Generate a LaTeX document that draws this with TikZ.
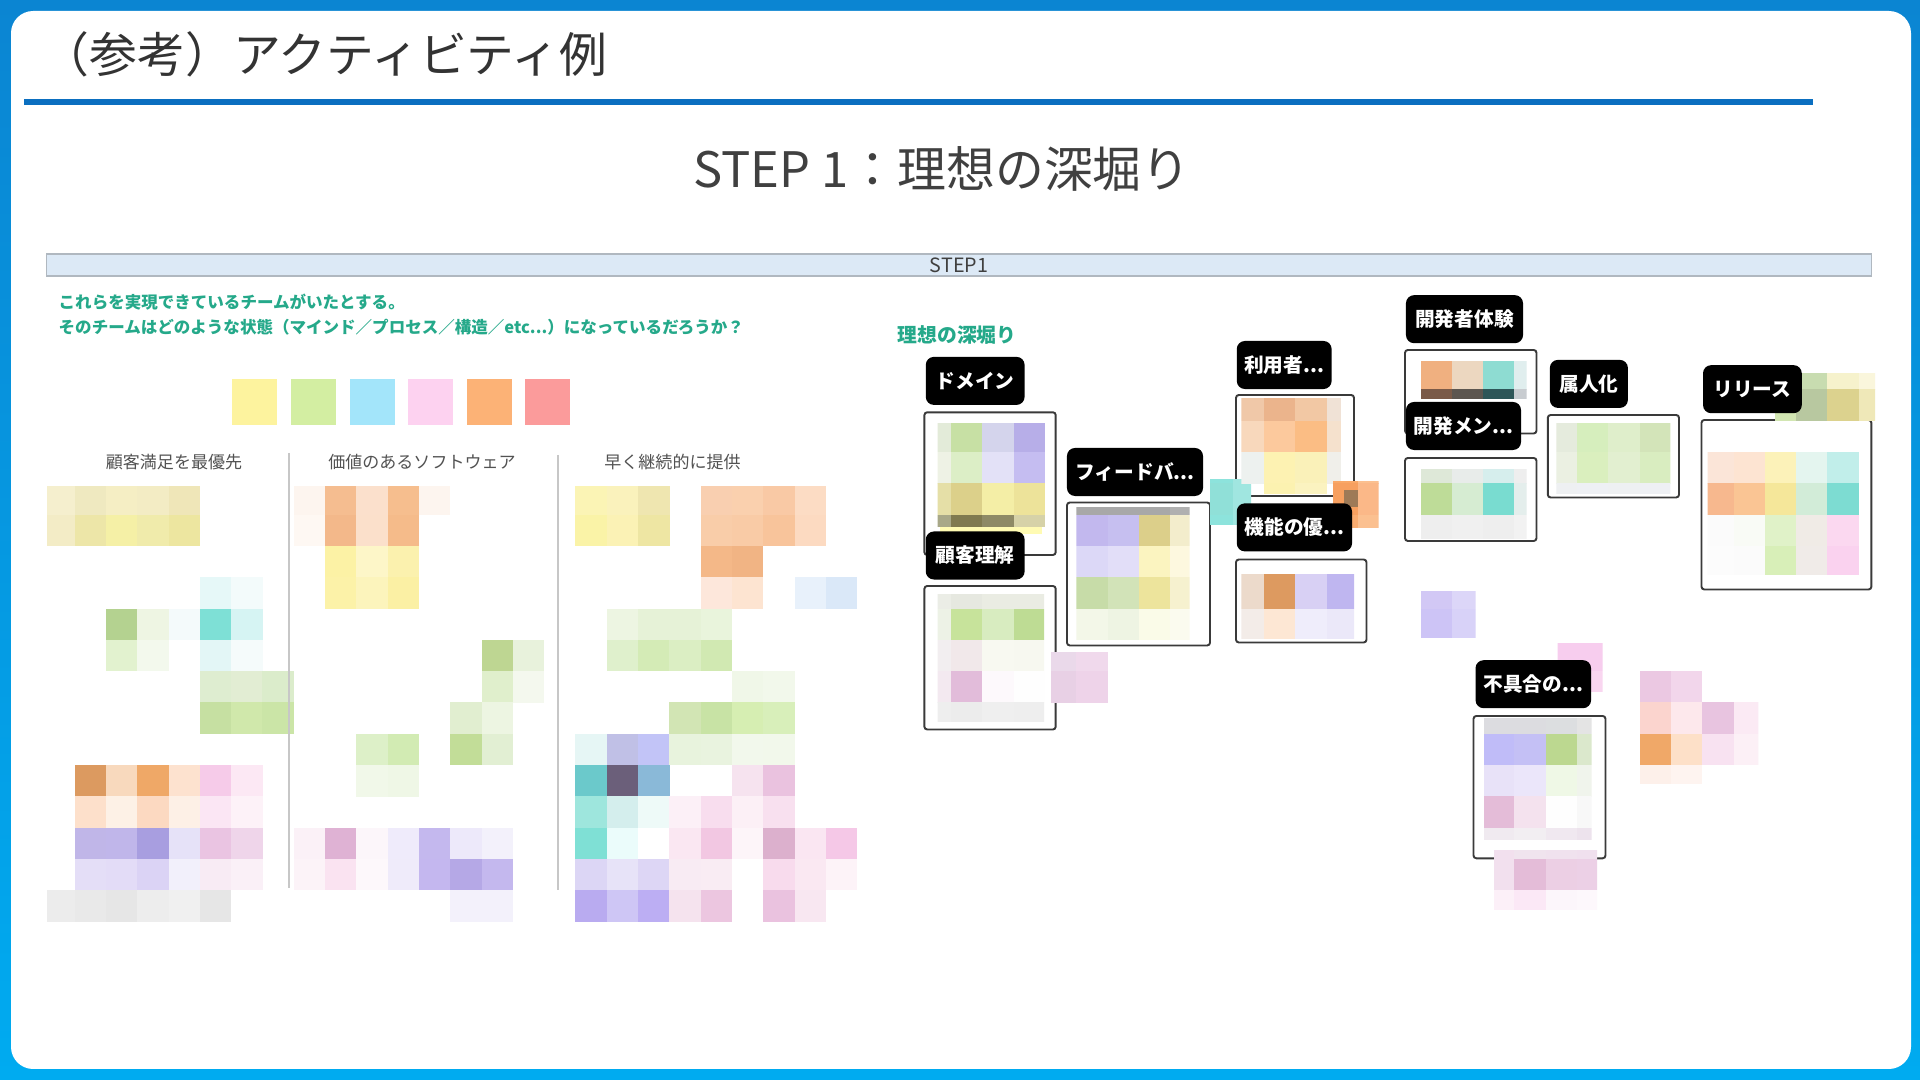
\documentclass[tikz,border=0pt]{standalone}
\usepackage{fontspec}
\setmainfont{Noto Sans CJK JP}
\usepackage{tikz}
\usetikzlibrary{positioning}
\definecolor{deepblue}{HTML}{0B85D2}
\definecolor{midblue}{HTML}{04A0E8}
\definecolor{skyblue}{HTML}{00ABF0}
\definecolor{ruleblue}{HTML}{0B6FC0}
\definecolor{inkgray}{HTML}{404040}
\definecolor{barblue}{HTML}{DCE9F6}
\definecolor{bargray}{HTML}{B0B8C0}
\definecolor{memogreen}{HTML}{25A98A}
\definecolor{framegray}{HTML}{3A3A3A}

% one pixel block of the blurred board, on a 31.3px grid
\newcommand\cells[2]{%
  \begin{scope}
    \clip #1;
    \foreach \ci/\cj/\cc in {#2}{%
      \definecolor{cellc}{HTML}{\cc}%
      \fill[cellc] ({43.3+31.3*\ci},{483.4+31.3*\cj}) rectangle ++(31.5,31.5);}
  \end{scope}}

\begin{document}
\begin{tikzpicture}[
    x=0.01cm,y=-0.01cm,
    tag/.style={fill=black,rounded corners=2.3pt,text=white,font=\fontsize{5.6pt}{6pt}\selectfont\bfseries,minimum height=0.48cm,inner sep=0pt},
    board/.style={draw=framegray,line width=0.55pt,fill=white,rounded corners=0.8pt},
    colhead/.style={text=black!68,font=\fontsize{4.84pt}{5pt}\selectfont,inner sep=0pt},
    memo/.style={text=memogreen,font=\fontsize{4.7pt}{5pt}\selectfont\bfseries,anchor=west,inner sep=0pt},
    swatch/.style={minimum width=0.45cm,minimum height=0.46cm,inner sep=0pt,anchor=north west},
    divider/.style={draw=black!22,line width=0.6pt}
  ]
  \useasboundingbox (0,0) rectangle (1920,1080);
  % card
  \shade[top color=deepblue,middle color=midblue,bottom color=skyblue] (0,0) rectangle (1920,1080);
  \fill[white,rounded corners=6.3pt] (11,11) rectangle (1911,1069);

  % heading
  \node[anchor=west,inner sep=0pt,text=black!80,font=\fontsize{13.6pt}{14pt}\selectfont] (title) at (41,54) {（参考）アクティビティ例};
  \draw[ruleblue,line width=1.7pt] (24,102) -- (1813,102);
  \node[text=inkgray,font=\fontsize{13.9pt}{15pt}\selectfont,inner sep=0pt] (step) at (942,169) {STEP 1：理想の深堀り};
  \node[draw=bargray,fill=barblue,line width=0.5pt,minimum width=18.24cm,minimum height=0.22cm,inner sep=0pt,
        text=inkgray,font=\fontsize{5.6pt}{6pt}\selectfont] (bar) at (959,265) {STEP1};

  % left: question and colour keys
  \node[memo] (ask1) at (58,302) {これらを実現できているチームがいたとする。};
  \node[memo] (ask2) at (58,327) {そのチームはどのような状態（マインド／プロセス／構造／etc...）になっているだろうか？};
  \foreach \k/\sx/\sc in {1/231.3/FDF39E,2/290.5/D3EEA2,3/349/A3E5FA,4/407.6/FDD2F0,5/466/FCB276,6/524.7/FB9B9B}{
    \definecolor{swc}{HTML}{\sc}
    \node[swatch,fill=swc] (sw\k) at (\sx,378.6) {};
  }
  \node[colhead] (head1) at (174,462) {顧客満足を最優先};
  \node[colhead] (head2) at (422,462) {価値のあるソフトウェア};
  \node[colhead] (head3) at (672.5,462) {早く継続的に提供};

  % left: blurred notes
  \cells{(47,487) rectangle (872,922)}{
    0/0/F5EFCE,1/0/EFE9C0,2/0/F5EEC4,3/0/F3ECC4,4/0/EFE6B8,
    0/1/F3ECC6,1/1/EDE6A8,2/1/F5F0A6,3/1/F0EBAB,4/1/EDE6A0,
    5/3/E6F8F8,6/3/F3FBFB,
    2/4/B4D290,3/4/EEF5E3,4/4/F4FAFB,5/4/7EE0D6,6/4/D6F4F3,
    2/5/E2F2CF,3/5/F3F9ED,5/5/E3F6F6,6/5/F5FBFB,
    5/6/DEEDD0,6/6/E2EDD3,7/6/DBECCB,
    5/7/C6E0A2,6/7/D0E8AB,7/7/CBE5A7,
    1/9/DC9A60,2/9/F8D9BD,3/9/EFA867,4/9/FDE2CF,5/9/F6CBE9,6/9/FCE8F4,
    1/10/FDE0CB,2/10/FDF1E6,3/10/FCD9C1,4/10/FDF0E6,5/10/FBE6F4,6/10/FDF2F8,
    1/11/C0B6E8,2/11/C0B6EA,3/11/A89EE0,4/11/E6E2F8,5/11/EAC4E2,6/11/EFD5EA,
    1/12/E4DEF7,2/12/E3DCF7,3/12/DBD3F5,4/12/F2F0FB,5/12/F8EBF4,6/12/FAF0F7,
    0/13/ECECEC,1/13/E9E9E9,2/13/E6E6E6,3/13/EDEDED,4/13/F0F0F0,5/13/E6E6E6,
    8/0/FDF5EF,9/0/F5BD90,10/0/FBE0CC,11/0/F6BE8E,12/0/FDF5EF,
    8/1/FEF8F3,9/1/F3B88A,10/1/FBE0CB,11/1/F5BB8A,
    9/2/FCF2A5,10/2/FDF6C8,11/2/FBF1AE,
    9/3/FCF2A8,10/3/FCF4BC,11/3/FBF0A4,
    14/5/BED692,15/5/E8F2DC,
    14/6/E0EFCC,15/6/F4F8EE,
    13/7/E1EED0,14/7/EDF5E2,
    10/8/DDF0C8,11/8/D2EBB3,13/8/C2DD98,14/8/E2EFD3,
    10/9/F1F8E9,11/9/EFF7E6,
    8/11/FBF1F7,9/11/DFB2D4,10/11/FCF6FA,11/11/EFEBFB,12/11/C4B8EE,13/11/EDE9FA,14/11/F3F1FB,
    8/12/FCF3F8,9/12/FAE3F1,10/12/FDF8FB,11/12/EFEBFA,12/12/C4B7EF,13/12/B5A8E6,14/12/C4B8EE,
    13/13/F3F1FB,14/13/F3F1FB,
    17/0/FBF4B5,18/0/FAF2BC,19/0/EFE6B0,21/0/F9CFB0,22/0/FAD0AE,23/0/F9C9A5,24/0/FCDCC4,
    17/1/FAF3A7,18/1/FBF2B5,19/1/EEE6A3,21/1/F9CDA9,22/1/F9CBA6,23/1/F8C49B,24/1/FCDAC1,
    21/2/F4B888,22/2/F1B484,
    21/3/FDE7DB,22/3/FDE4D1,24/3/E8F1FB,25/3/DAE8F8,
    18/4/EDF5E2,19/4/E6F2D7,20/4/E6F2D7,21/4/E9F4DC,
    18/5/DFF0CC,19/5/D4EBB6,20/5/DBEEC3,21/5/D1E9B2,
    22/6/F0F7E8,23/6/F2F8EB,
    20/7/D2E5B4,21/7/C8E3A5,22/7/D6EEB2,23/7/D8EFBA,
    17/8/E6F6F5,18/8/C0C0E6,19/8/C2C4F7,20/8/E8F3DD,21/8/E9F3DF,22/8/F2F8EC,23/8/F2F8EB,
    17/9/6BC9CB,18/9/6B5F7A,19/9/8AB9D8,22/9/F6E3EF,23/9/EAC2DF,
    17/10/9EE6DD,18/10/D4EEED,19/10/EEFAF8,20/10/FCF0F7,21/10/F8DDEE,22/10/FCF0F6,23/10/F8E0EF,
    17/11/7FE0D5,18/11/EBFCFB,20/11/FAE7F2,21/11/F2C7E2,22/11/FDF5F9,23/11/DCB0CD,24/11/FAE6F2,25/11/F5C8E7,
    17/12/DCD6F5,18/12/E7E3F8,19/12/DDD6F5,20/12/F8EBF3,21/12/F9ECF3,23/12/F8DBED,24/12/FAE8F2,25/12/FDF3F8,
    17/13/B9ABF0,18/13/CEC6F5,19/13/BCAEF3,20/13/F5E3EE,21/13/ECC6E0,23/13/EAC2DF,24/13/F8E7F1}
  \draw[divider] (289,453) -- (289,888);
  \draw[divider] (558,455) -- (558,890);

  % right: the ideal board
  \node[memo,font=\fontsize{5.63pt}{6pt}\selectfont\bfseries] (ideal) at (897,335) {理想の深堀り};
  \draw[board] (924.4,412.3) rectangle (1055.7,555);
  \draw[board] (924.4,586) rectangle (1055.7,729.5);
  \draw[board] (1067,502.5) rectangle (1210,645.5);
  \draw[board] (1236,395) rectangle (1354,496);
  \draw[board] (1236,559.5) rectangle (1366.5,642.5);
  \draw[board] (1405,350) rectangle (1536.5,433.5);
  \draw[board] (1405,458) rectangle (1536.5,541);
  \draw[board] (1547.8,415) rectangle (1679,497.5);
  \draw[board] (1701.5,420) rectangle (1871.4,589.5);
  \draw[board] (1473.5,716) rectangle (1605.5,858.3);

  % domain
  \cells{(937.7,424) rectangle (1045.8,526.7)}{
    28/-2/E3EBD9,29/-2/C7E0A4,30/-2/D4D4EC,31/-2/B7AEE8,
    28/-1/EEF2E5,29/-1/DCEEC6,30/-1/E3E1F7,31/-1/C5BDF1,
    28/0/E5DFA7,29/0/DCD08A,30/0/F4EEA6,31/0/EDE39A,
    28/1/A8A888,29/1/807A50,30/1/8E8A66,31/1/D6D2A8}
  \fill[yellow!30] (940,526.7) rectangle (1042,534);
  % customer
  \cells{(937.7,594.3) rectangle (1044,721.7)}{
    28/3/EBEDE6,29/3/E6E8E0,30/3/EAECE3,31/3/EAECE3,
    28/4/EDF2E6,29/4/C7E39B,30/4/D8ECC0,31/4/BEDC94,
    28/5/F2EEF0,29/5/F1E8EA,30/5/F8F9F1,31/5/F7F8F0,
    28/6/F3E9F0,29/6/E2BCDA,30/6/FDF9FC,31/6/FEFEFE,
    28/7/EEEEEE,29/7/ECECEC,30/7/EFEFEF,31/7/EEEEEE}
  \cells{(1051,653) rectangle (1109,703)}{32/5/EAD9EA,33/5/F0D9EC,32/6/E8D0E5,33/6/EED3E9}
  % feedback
  \cells{(1076.3,507.7) rectangle (1189.7,641.7)}{
    33/0/A8A8A8,34/0/A8A8A8,35/0/A8A8A8,36/0/B0B0B0,
    33/1/C2B8EE,34/1/C6BFF0,35/1/DCCF8A,36/1/F3EDCC,
    33/2/DCD8F7,34/2/E2DEF8,35/2/FBF4C0,36/2/FDF8DF,
    33/3/C7DCA8,34/3/D2E3B8,35/3/EDE49C,36/3/F6F1CF,
    33/4/F3F7E8,34/4/EEF4E3,35/4/FAFBE8,36/4/FBFBEF}
  \cells{(1210,480) rectangle (1251,525)}{37/-1/8DE3DC,38/-1/A0E6E0,37/0/90E0D8,38/0/A0E6E0,37/1/8DE3DC,38/1/A0E6E0}
  % user
  \cells{(1241.4,398.3) rectangle (1340.9,493.3)}{
    38/-3/F0C8A8,39/-3/EBB48C,40/-3/F2C8A4,41/-3/F0E2D6,
    38/-2/F8D8BC,39/-2/FCC99D,40/-2/FBBD84,41/-2/F5E1CD,
    38/-1/EDF1EF,39/-1/FDF2B2,40/-1/FAF1B9,41/-1/F0EFEA,
    39/0/FCF2B0,40/0/FBF3C0}
  \cells{(1333,481.7) rectangle (1378.7,528)}{41/-1/F9A868,42/-1/FBC090,41/0/F7A060,42/0/FBB888,41/1/F9AC70,42/1/FBC090}
  \fill[brown!70!black!80] (1344,490) rectangle (1357.5,506.7);
  % function
  \cells{(1241.4,575) rectangle (1354,638.3)}{
    38/2/ECDACB,39/2/DD9A60,40/2/D8D0F4,41/2/BFB6F0,
    38/3/ECDACB,39/3/DD9A60,40/3/D8D0F4,41/3/BFB6F0,
    38/4/F3ECE8,39/4/FDE7D4,40/4/EFEDFB,41/4/EBE8F9}
  \cells{(1420.5,591.7) rectangle (1475.5,638)}{44/3/D2C8F5,45/3/DCD6F8,44/4/CDC4F6,45/4/D8D2F8}
  % developer
  \cells{(1420.5,361.7) rectangle (1526.5,398.3)}{
    44/-4/F0B080,45/-4/ECD7C0,46/-4/8EDCD2,47/-4/E0EEEE,
    44/-3/7A5A48,45/-3/5C5650,46/-3/2E5658,47/-3/C8CCD0}
  \cells{(1420.5,470) rectangle (1526.5,538.3)}{
    44/-1/DEE8D8,45/-1/E8ECEA,46/-1/D6EEED,47/-1/EEEEEE,
    44/0/BEDC98,45/0/D6ECD2,46/0/79DCD0,47/0/E4EEEC,
    44/1/EEEEEE,45/1/F0F0F0,46/1/EEEEEE,47/1/F2F2F2}
  % person
  \cells{(1556.4,423.3) rectangle (1670.4,493.3)}{
    48/-2/E5EBDD,49/-2/D6EEBD,50/-2/DFEECB,51/-2/D3E4B9,
    48/-1/EBF0E2,49/-1/DAEFBE,50/-1/E2EFD0,51/-1/D9EDC0,
    48/0/EEF0F2,49/0/EEF0F4,50/0/EEF0F2,51/0/EEF0F4}
  % release
  \cells{(1775,374) rectangle (1875,423)}{
    55/-4/E4F0D0,56/-4/C8DCB0,57/-4/F6F2CC,58/-4/FAF6DC,
    55/-3/D2E6B2,56/-3/B8C8A0,57/-3/DCD28E,58/-3/EFE8B8}
  \cells{(1707.6,451.7) rectangle (1860,575)}{
    53/-1/FBE5D8,54/-1/FDE4D2,55/-1/FCF2B9,56/-1/E4F5EF,57/-1/C1EEEA,
    53/0/F7B88E,54/0/FAC594,55/0/F5E79A,56/0/D2ECD8,57/0/7DDCD2,
    53/1/FBFBFB,54/1/F9FBF6,55/1/E0F2C8,56/1/F0EBE6,57/1/FBD8F0,
    53/2/FCFCFC,54/2/FBFBFB,55/2/D8EFB8,56/2/F0EBE8,57/2/FAD2EF}
  % bug
  \cells{(1484,718.3) rectangle (1591.7,840)}{
    46/7/DCDCE0,47/7/DCDCE0,48/7/DCDEE0,49/7/E4E4E4,
    46/8/C0BCF8,47/8/C4C0F5,48/8/BCD890,49/8/DBE8CC,
    46/9/E8E2F8,47/9/EBE6FA,48/9/EFF8E6,49/9/F0F4EC,
    46/10/E4BCD8,47/10/F4E2EE,48/10/FEFEFE,49/10/F8F8F8,
    46/11/F0EAF0,47/11/F2EEF2,48/11/F0E8F0,49/11/EDE3ED}
  \cells{(1494,851) rectangle (1597,910)}{
    46/11/F2E0EE,47/11/F0E4EE,48/11/F0E2EE,49/11/F0E0EE,
    46/12/F2E0EE,47/12/E4BCD8,48/12/ECCFE4,49/12/ECD0E6,
    46/13/FCF0F8,47/13/FBE8F6,48/13/FCF6FB,49/13/FDF8FC}
  \cells{(1557.7,644) rectangle (1602.7,691.7)}{48/5/F7CDEE,49/5/F7CDEE,48/6/F9D6F0,49/6/F9D6F0}
  \cells{(1640,671.7) rectangle (1758.3,783.3)}{
    51/6/EBC8E2,52/6/F2D6EB,
    51/7/FBD4CE,52/7/FDE8EC,53/7/E8C4E0,54/7/FBEAF4,
    51/8/F0A868,52/8/FDE0C8,53/8/F8E2F1,54/8/FCF0F6,
    51/9/FDF0EA,52/9/FEF4F0}

  % labels
  \node[tag,minimum width=0.988cm] (domain) at (975.2,380.9) {ドメイン};
  \node[tag,minimum width=0.988cm] (customer) at (975.2,555.5) {顧客理解};
  \node[tag,minimum width=1.36cm] (feedback) at (1135,472) {フィードバ...};
  \node[tag,minimum width=0.948cm] (user) at (1284.2,365) {利用者...};
  \node[tag,minimum width=1.152cm] (function) at (1294.4,527.4) {機能の優...};
  \node[tag,minimum width=1.17cm] (devx) at (1464.5,319.2) {開発者体験};
  \node[tag,minimum width=1.15cm] (member) at (1463.5,426) {開発メン...};
  \node[tag,minimum width=0.78cm] (person) at (1588.9,383.9) {属人化};
  \node[tag,minimum width=0.987cm] (release) at (1752.4,389.2) {リリース};
  \node[tag,minimum width=1.155cm] (bug) at (1533.3,684.2) {不具合の...};
\end{tikzpicture}
\end{document}
